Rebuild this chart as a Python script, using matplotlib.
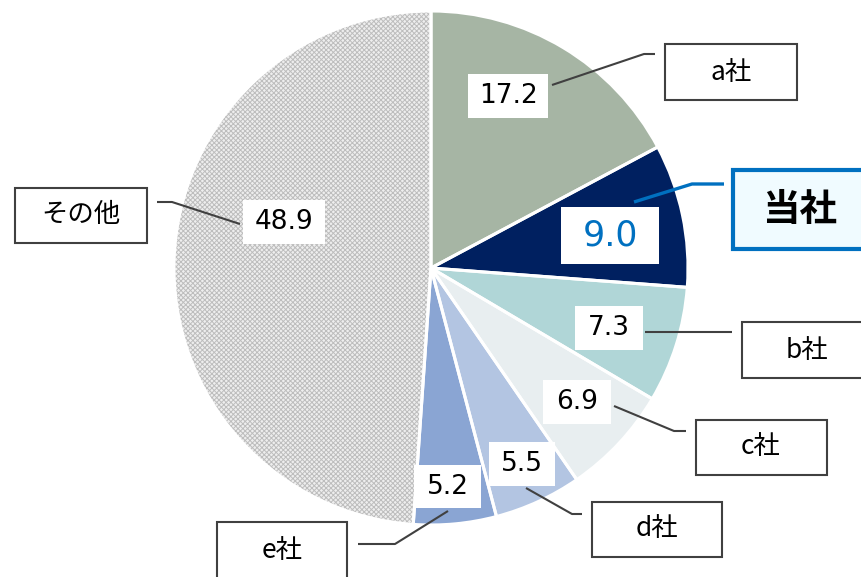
import matplotlib
matplotlib.use("Agg")
import matplotlib.pyplot as plt
from matplotlib.patches import Rectangle

plt.rcParams["font.family"] = ["Noto Sans CJK JP", "DejaVu Sans"]
plt.rcParams["hatch.linewidth"] = 0.7

# Data
companies = ["a社", "当社", "b社", "c社", "d社", "e社", "その他"]
shares = [17.2, 9.0, 7.3, 6.9, 5.5, 5.2, 48.9]
colors = ["#A6B5A4", "#002060", "#B0D6D7", "#E8EEF0", "#B3C5E2", "#8AA5D3", "#EEEEEE"]

W, H = 861, 577
CX, CY, R = 431, 268, 257

# value box (x0, y0, x1, y1), name box, leader line points -- pixel coords, top-left origin
value_boxes = [(468, 74, 548, 118), (561, 207, 659, 264), (575, 306, 643, 350),
               (543, 380, 611, 424), (489, 442, 555, 486), (414, 465, 481, 508),
               (243, 200, 325, 244)]
name_boxes = [(665, 44, 797, 100), (733, 170, 872, 249), (742, 322, 872, 378),
              (696, 420, 827, 475), (592, 502, 722, 557), (217, 522, 347, 582),
              (15, 188, 147, 243)]
name_text_pos = [(731, 72), (800, 209), (807, 350), (761, 447), (657, 529), (282, 550), (81, 215)]
leaders = [[(552, 85), (644, 54), (655, 54)],
           [(634, 202), (692, 184), (724, 184)],
           [(645, 332), (732, 332)],
           [(614, 406), (674, 431), (686, 431)],
           [(526, 488), (572, 514), (582, 514)],
           [(448, 511), (395, 544), (358, 544)],
           [(240, 224), (172, 202), (157, 202)]]

fig = plt.figure(figsize=(W / 100, H / 100), dpi=100)
ax = fig.add_axes([0, 0, 1, 1])


def fy(py):
    return H - py


# pie fills
wedges, _ = ax.pie(shares, colors=colors, startangle=90, counterclock=False,
                   center=(CX, fy(CY)), radius=R, frame=True,
                   wedgeprops=dict(linewidth=0))
wedges[-1].set_hatch("xxxxxxx")
wedges[-1].set_edgecolor("#BDBDBD")
# white separators
ax.pie(shares, startangle=90, counterclock=False, center=(CX, fy(CY)), radius=R,
       frame=True, wedgeprops=dict(facecolor="none", edgecolor="white", linewidth=2.2))
ax.set_xlim(0, W)
ax.set_ylim(0, H)
ax.axis("off")

for i, name in enumerate(companies):
    ours = name == "当社"
    lc = "#0070C0" if ours else "#404040"
    pts = leaders[i]
    ax.plot([p[0] for p in pts], [fy(p[1]) for p in pts], color=lc,
            lw=2.4 if ours else 1.5, solid_capstyle="butt", zorder=3)

    x0, y0, x1, y1 = value_boxes[i]
    ax.add_patch(Rectangle((x0, fy(y1)), x1 - x0, y1 - y0, facecolor="white",
                           edgecolor="none", zorder=4))
    ax.text((x0 + x1) / 2, fy((y0 + y1) / 2), f"{shares[i]:.1f}",
            ha="center", va="center", zorder=5, family="DejaVu Sans",
            fontsize=25 if ours else 19, color="#0070C0" if ours else "black")

    x0, y0, x1, y1 = name_boxes[i]
    ax.add_patch(Rectangle((x0, fy(y1)), x1 - x0, y1 - y0,
                           facecolor="#F0FBFF" if ours else "white",
                           edgecolor=lc, lw=3 if ours else 1.5, zorder=4))
    tx, ty = name_text_pos[i]
    ax.text(tx, fy(ty), name, ha="center", va="center", zorder=5,
            fontsize=27 if ours else 19, fontweight="bold" if ours else "normal")

fig.savefig("out.png", dpi=100)
